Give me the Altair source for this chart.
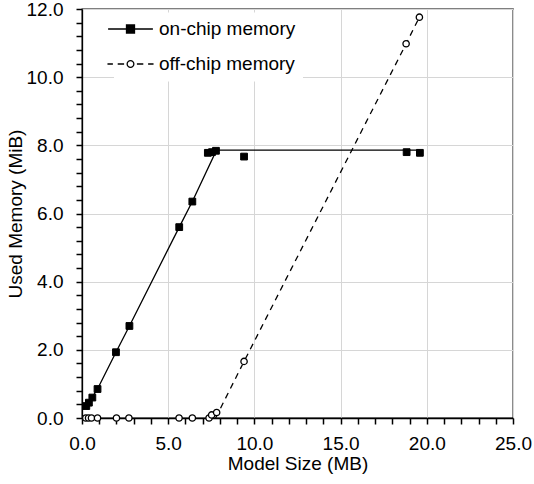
import altair as alt
import pandas as pd

# ---- data ----
series_names = ["on-chip memory", "off-chip memory"]

on_x = [0.25, 0.4, 0.6, 0.9, 1.97, 2.75, 5.64, 6.4, 7.3, 7.54, 7.77, 9.4, 18.83, 19.6]
on_y = [0.35, 0.45, 0.6, 0.85, 1.93, 2.7, 5.6, 6.35, 7.78, 7.8, 7.84, 7.67, 7.8, 7.78]

off_x = [0.22, 0.38, 0.55, 0.9, 2.0, 2.72, 5.63, 6.4, 7.37, 7.52, 7.81, 9.4, 18.8, 19.57]
off_y = [0, 0, 0, 0, 0, 0, 0, 0, 0, 0.09, 0.16, 1.66, 10.98, 11.76]

on_fit_x = [0.25, 0.9, 1.97, 2.75, 5.64, 6.4, 7.8, 19.6]
on_fit_y = [0.35, 0.85, 1.93, 2.7, 5.6, 6.35, 7.86, 7.86]

off_fit_x = [7.75, 9.4, 18.8, 19.57]
off_fit_y = [0.0, 1.66, 10.98, 11.76]

x_ticks = list(range(0, 26))
y_ticks = [round(0.4 * k, 1) for k in range(31)]

# ---- tables ----
on_df = pd.DataFrame({"x": on_x, "y": on_y, "series": series_names[0]})
off_df = pd.DataFrame({"x": off_x, "y": off_y, "series": series_names[1]})
pts = pd.concat([on_df, off_df], ignore_index=True)
on_fit = pd.DataFrame({"x": on_fit_x, "y": on_fit_y})
off_fit = pd.DataFrame({"x": off_fit_x, "y": off_fit_y})

FONT = "Liberation Sans"

x_axis = alt.Axis(
    values=x_ticks,
    ticks=True,
    tickColor="black",
    tickWidth=1.5,
    tickSize=6,
    labelExpr="datum.value % 5 === 0 ? format(datum.value, '.1f') : ''",
    gridOpacity={"condition": {"test": "datum.value % 5 === 0", "value": 1}, "value": 0},
    labelPadding=10,
    labelOverlap=False,
    labelFlush=False,
    titleX=215.5,
    titleY=51,
    titleAlign="center",
    titleBaseline="alphabetic",
)
y_axis = alt.Axis(
    values=y_ticks,
    ticks=True,
    tickColor="black",
    tickWidth=1.5,
    tickSize=6,
    labelExpr="abs(datum.value/2 - round(datum.value/2)) < 0.001 ? format(datum.value, '.1f') : ''",
    gridOpacity={"condition": {"test": "abs(datum.value/2 - round(datum.value/2)) < 0.001", "value": 1}, "value": 0},
    labelPadding=13,
    labelOverlap=False,
    labelFlush=False,
    titleX=-67,
    titleY=204.5,
    titleAngle=270,
    titleAlign="center",
    titleBaseline="middle",
)

xs = alt.X("x:Q", scale=alt.Scale(domain=[0, 25], nice=False), axis=x_axis, title="Model Size (MB)")
ys = alt.Y("y:Q", scale=alt.Scale(domain=[0, 12], nice=False), axis=y_axis, title="Used Memory (MiB)")

on_line = alt.Chart(on_fit).mark_line(color="black", strokeWidth=1.3).encode(x=xs, y=ys)
off_line = alt.Chart(off_fit).mark_line(color="black", strokeWidth=1.3, strokeDash=[6, 5]).encode(x=xs, y=ys)

on_pts = alt.Chart(on_df).mark_point(
    shape="square", filled=True, fill="black", stroke="black", strokeWidth=1, size=46, opacity=1
).encode(x=xs, y=ys)
off_pts = alt.Chart(off_df).mark_point(
    shape="circle", filled=True, fill="white", stroke="black", strokeWidth=1.3, size=40, opacity=1
).encode(x=xs, y=ys)

# legend symbols: line + marker drawn as one path (unit = 8 px for size 256)
on_path = "M-2.8,0L2.8,0M-0.5,-0.5L0.5,-0.5L0.5,0.5L-0.5,0.5Z"
off_path = ("M-2.88,0L-2.2,0M-1.6,0L-0.8,0M0.8,0L1.6,0M2.2,0L2.88,0"
            "M0.42,0A0.42,0.42,0,1,1,-0.42,0A0.42,0.42,0,1,1,0.42,0Z")

leg = alt.Legend(
    title=None, orient="none", legendX=32, legendY=3.5, padding=7, fillColor="white",
    labelFont=FONT, labelFontSize=19, labelColor="black", labelLimit=0, labelOffset=19,
    rowPadding=15, symbolSize=256, symbolStrokeColor="black", symbolStrokeWidth=1.3, symbolOpacity=1,
)

legend_layer = alt.Chart(pts).mark_point(filled=True, opacity=0, strokeWidth=1.3).encode(
    x=xs,
    y=ys,
    shape=alt.Shape("series:N", scale=alt.Scale(domain=series_names, range=[on_path, off_path]), legend=leg),
    fill=alt.Fill("series:N", scale=alt.Scale(domain=series_names, range=["black", "white"]), legend=leg),
    stroke=alt.Stroke("series:N", scale=alt.Scale(domain=series_names, range=["black", "black"]), legend=leg),
)

chart = alt.layer(on_line, off_line, on_pts, off_pts, legend_layer).properties(
    width=431,
    height=409,
    autosize=alt.AutoSizeParams(type="none"),
    padding={"left": 82, "top": 9, "right": 21, "bottom": 66},
    background="white",
).configure_view(
    stroke="black", strokeWidth=1.3
).configure_axis(
    labelFont=FONT, labelFontSize=19, labelColor="black",
    titleFont=FONT, titleFontSize=19, titleFontWeight="normal", titleColor="black",
    domainColor="black", domainWidth=1.3,
    gridColor="#d6d6d6", gridWidth=1,
)

chart.save("out.html", embed_options={"renderer": "svg", "actions": False})
